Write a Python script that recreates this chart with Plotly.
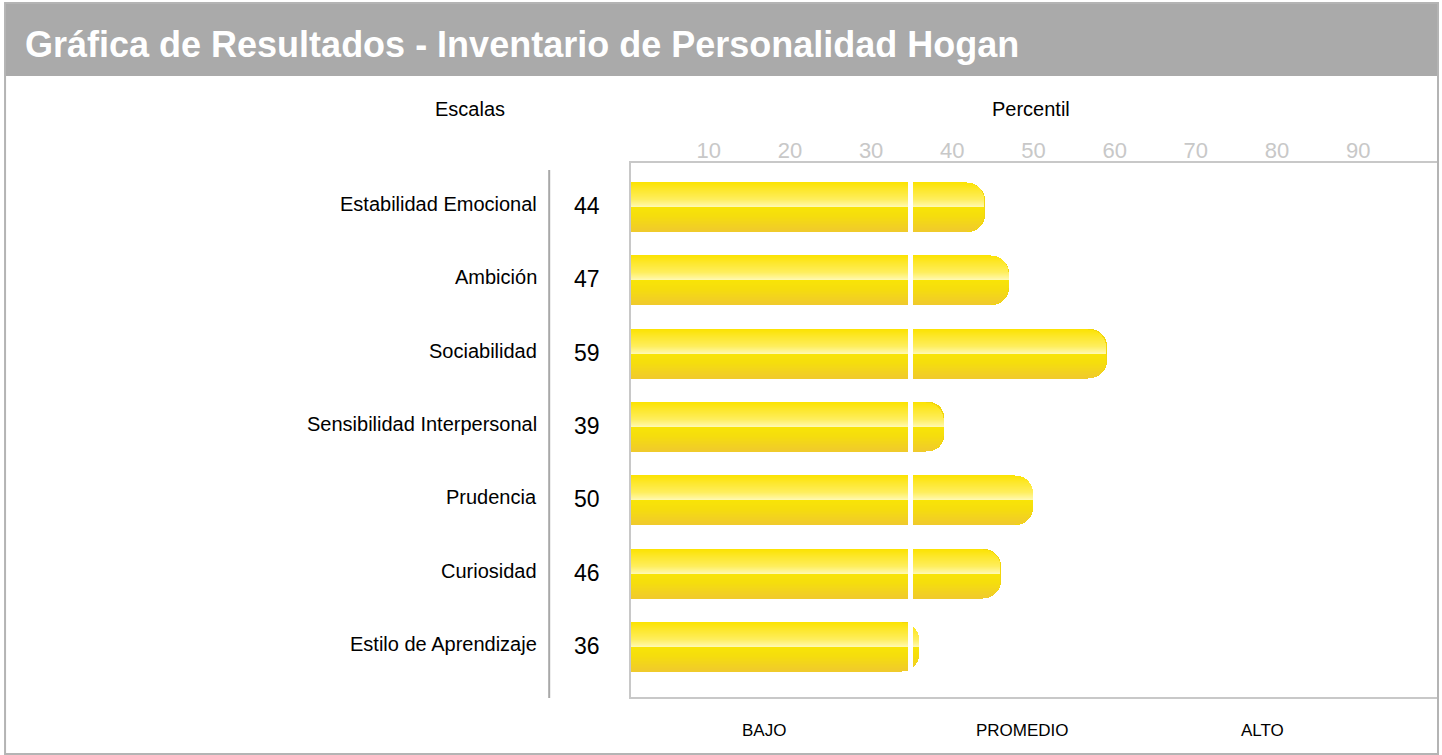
import plotly.graph_objects as go

# ---------------- data ----------------
categories = [
    "Estabilidad Emocional",
    "Ambición",
    "Sociabilidad",
    "Sensibilidad Interpersonal",
    "Prudencia",
    "Curiosidad",
    "Estilo de Aprendizaje",
]
percentiles = [44, 47, 59, 39, 50, 46, 36]
tick_values = [10, 20, 30, 40, 50, 60, 70, 80, 90]
band_labels = ["BAJO", "PROMEDIO", "ALTO"]
title_text = "Gráfica de Resultados - Inventario de Personalidad Hogan"

# ---------------- layout geometry (pixels) ----------------
W, H = 1442, 755
PLOT_L, PLOT_R, PLOT_T, PLOT_B = 631, 1439, 163, 697
X_RANGE = [0.42, 99.71]
Y_RANGE = [6.682, -0.6]          # reversed: first category on top
SX = (PLOT_R - PLOT_L) / (X_RANGE[1] - X_RANGE[0])      # px per percentile
SY = (PLOT_B - PLOT_T) / (Y_RANGE[0] - Y_RANGE[1])      # px per row
BAR_PX = 49
BAR_W = BAR_PX / SY
R_PX = 17.5
SPLIT_END, SPLIT_START = 34.6, 35.2   # white gap at the BAJO/PROMEDIO boundary
BAND_X = [16.8, 48.7, 78.2]
N_STRIPS = 49
INSET_PX = 0.6

GRAD = [
    (0.00, "#fce300"),
    (0.15, "#fde72a"),
    (0.35, "#feee5c"),
    (0.47, "#fff69c"),
    (0.505, "#fffab2"),
    (0.52, "#f8e406"),
    (0.70, "#f5dd0e"),
    (1.00, "#f0ca2c"),
]
BASE_COLOR = "#f2d60c"


def hex2rgb(h):
    h = h.lstrip("#")
    return tuple(int(h[i:i + 2], 16) for i in (0, 2, 4))


def grad_color(t):
    for (t0, c0), (t1, c1) in zip(GRAD[:-1], GRAD[1:]):
        if t <= t1:
            f = 0 if t1 == t0 else (t - t0) / (t1 - t0)
            a, b = hex2rgb(c0), hex2rgb(c1)
            return "rgb(%d,%d,%d)" % tuple(round(a[k] + (b[k] - a[k]) * f) for k in range(3))
    return GRAD[-1][1]


def xp(px):
    return (px - PLOT_L) / (PLOT_R - PLOT_L)


def yp(py):
    return (PLOT_B - py) / (PLOT_B - PLOT_T)


rows = list(range(len(categories)))
fig = go.Figure()

# base (outline) bars; the short rounded stubs are left to the strips
min_len = R_PX / SX
fig.add_trace(go.Bar(
    y=rows, x=[min(v, SPLIT_END) for v in percentiles], base=0, orientation="h",
    width=BAR_W, marker=dict(color=BASE_COLOR, line=dict(width=0)),
    hoverinfo="skip", showlegend=False))
fig.add_trace(go.Bar(
    y=rows,
    x=[(v - SPLIT_START) if (v - SPLIT_START) >= min_len else 0 for v in percentiles],
    base=SPLIT_START, orientation="h", width=BAR_W,
    marker=dict(color=BASE_COLOR, line=dict(width=0), cornerradius=R_PX),
    hoverinfo="skip", showlegend=False))

# gradient strips following the rounded end
half = BAR_PX / 2
for i in range(N_STRIPS):
    t0, t1 = i / N_STRIPS, (i + 1) / N_STRIPS
    dmax = max(abs((t0 - 0.5) * BAR_PX), abs((t1 - 0.5) * BAR_PX))
    d = dmax - (half - R_PX)
    cut = 0.0
    if d > 0:
        cut = R_PX - max(R_PX ** 2 - d ** 2, 0) ** 0.5
    ends = [v - (cut + INSET_PX) / SX for v in percentiles]
    col = grad_color((t0 + t1) / 2)
    off = -BAR_W / 2 + t0 * BAR_W
    w = BAR_W / N_STRIPS
    fig.add_trace(go.Bar(
        y=rows, x=[max(min(e, SPLIT_END), 0) for e in ends], base=0, orientation="h",
        width=w, offset=off, marker=dict(color=col, line=dict(width=0)),
        hoverinfo="skip", showlegend=False))
    fig.add_trace(go.Bar(
        y=rows, x=[max(e - SPLIT_START, 0) for e in ends], base=SPLIT_START,
        orientation="h", width=w, offset=off,
        marker=dict(color=col, line=dict(width=0)),
        hoverinfo="skip", showlegend=False))

FONT = "Liberation Sans, Arial, Helvetica, sans-serif"
annotations = [
    dict(text="<b>%s</b>" % title_text, xref="paper", yref="paper", x=xp(21), y=yp(45),
         xanchor="left", yanchor="middle", showarrow=False,
         font=dict(family=FONT, size=36, color="white")),
    dict(text="Escalas", xref="paper", yref="paper", x=xp(470), y=yp(109),
         xanchor="center", yanchor="middle", showarrow=False,
         font=dict(family=FONT, size=20, color="black")),
    dict(text="Percentil", xref="paper", yref="paper", x=xp(1032), y=yp(109),
         xanchor="center", yanchor="middle", showarrow=False,
         font=dict(family=FONT, size=20, color="black")),
]
for r, (cat, v) in enumerate(zip(categories, percentiles)):
    annotations.append(dict(text=cat, xref="paper", yref="y", x=xp(539), y=r,
                            xanchor="right", yanchor="middle", yshift=3, showarrow=False,
                            font=dict(family=FONT, size=20, color="black")))
    annotations.append(dict(text=str(v), xref="paper", yref="y", x=xp(586.5), y=r,
                            xanchor="center", yanchor="middle", yshift=1, showarrow=False,
                            font=dict(family=FONT, size=23, color="black")))
for lab, bx in zip(band_labels, BAND_X):
    annotations.append(dict(text=lab, xref="x", yref="paper", x=bx, y=yp(730),
                            xanchor="center", yanchor="middle", showarrow=False,
                            font=dict(family=FONT, size=17, color="black")))

shapes = [
    # title bar
    dict(type="rect", xref="paper", yref="paper", x0=xp(3), x1=xp(1440), y0=yp(76), y1=yp(3),
         fillcolor="#aaaaaa", line=dict(width=0), layer="below"),
    # outer border
    dict(type="rect", xref="paper", yref="paper", x0=xp(3.5), x1=xp(1440), y0=yp(754), y1=yp(3),
         fillcolor="rgba(0,0,0,0)", line=dict(color="#b4b4b4", width=2), layer="above"),
    # separator between labels and values
    dict(type="line", xref="paper", yref="paper", x0=xp(549), x1=xp(549), y0=yp(170), y1=yp(698),
         line=dict(color="#a8a8a8", width=2)),
]

fig.update_layout(
    width=W, height=H,
    margin=dict(l=PLOT_L, r=W - PLOT_R, t=PLOT_T, b=H - PLOT_B, pad=0),
    paper_bgcolor="white", plot_bgcolor="white",
    barmode="overlay", bargap=0,
    showlegend=False,
    xaxis=dict(range=X_RANGE, side="top", tickvals=tick_values, ticks="",
               ticklabelstandoff=-6,
               showgrid=False, zeroline=False, showline=True, mirror=True,
               linecolor="#c8c8c8", linewidth=2,
               tickfont=dict(family=FONT, size=22, color="#c8c8c8"), fixedrange=True),
    yaxis=dict(range=Y_RANGE, showticklabels=False, ticks="", showgrid=False,
               zeroline=False, showline=True, mirror=True, linecolor="#c8c8c8",
               linewidth=2, fixedrange=True),
    annotations=annotations,
    shapes=shapes,
)

fig.write_html(
    "out.html",
    config={"displayModeBar": False},
    post_script="document.body.style.margin='0';document.body.style.overflow='hidden';",
)
